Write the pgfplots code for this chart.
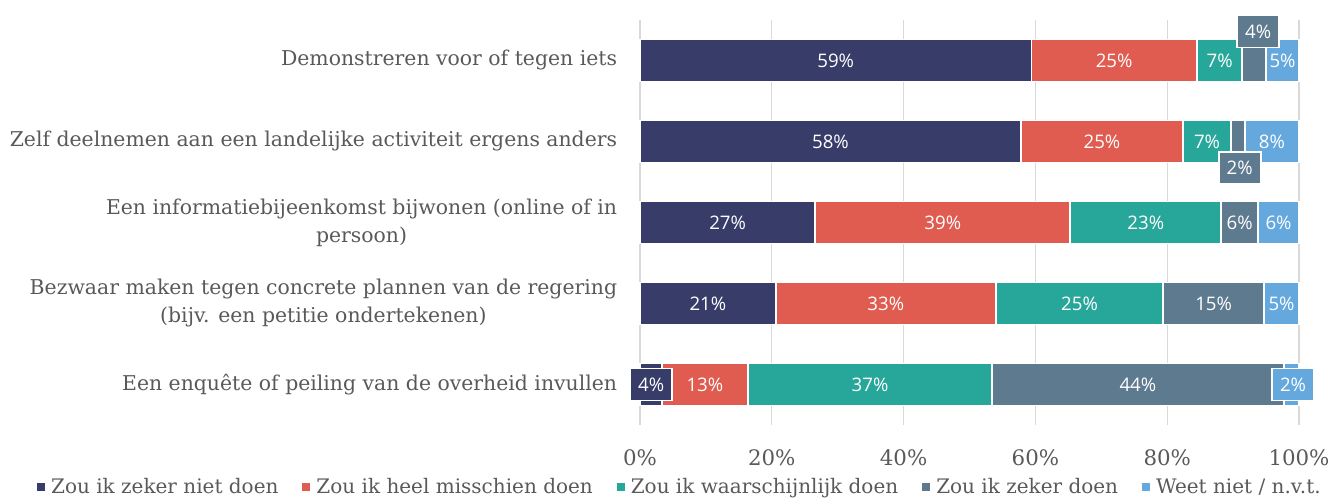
\documentclass[border=0pt]{standalone}
\usepackage{pgfplots}
\pgfplotsset{compat=1.18}
\usepackage{fontspec}
\setmainfont{DejaVu Serif}
\newfontfamily\lab{Open Sans}
\definecolor{cA}{HTML}{383C69}
\definecolor{cB}{HTML}{E05C50}
\definecolor{cC}{HTML}{27A69A}
\definecolor{cD}{HTML}{5E7A8F}
\definecolor{cE}{HTML}{64A8DE}
\definecolor{txt}{HTML}{595959}
\definecolor{grd}{HTML}{D9D9D9}
\begin{document}
\begin{tikzpicture}
\useasboundingbox (0,0) rectangle (1002.75pt,-373.5pt);
\pgfplotsset{
  base/.style={
    at={(480pt,-15pt)}, anchor=north west,
    scale only axis, width=494.25pt, height=303.75pt,
    xmin=0, xmax=100, ymin=-0.5, ymax=4.5, y dir=reverse,
    clip=false, /pgf/number format/assume math mode=true,
  },
  seg/.style={fill=#1, draw=white, line width=1.3pt},
  lbl/.style={draw=none, nodes near coords={\pgfmathprintnumber{\pgfplotspointmeta}\%}, point meta=explicit,
    every node near coord/.style={anchor=center, text=white, font=\lab\fontsize{14}{14}\selectfont}},
  boxlbl/.style={draw=none, nodes near coords={\pgfmathprintnumber{\pgfplotspointmeta}\%}, point meta=explicit,
    every node near coord/.style={anchor=center, text=white, font=\lab\fontsize{14}{14}\selectfont,
      fill=#1, draw=white, line width=1.2pt, minimum width=31.5pt, minimum height=24pt, inner sep=0pt}},
}
\begin{axis}[base,
  xbar stacked, bar width=31.5pt,
  axis line style={draw=none}, major tick length=0pt,
  xtick={0,20,...,100}, xticklabel={\pgfmathprintnumber{\tick}\%},
  xmajorgrids, major grid style={grd, line width=1pt},
  xticklabel style={inner sep=0pt, yshift=-18pt, text=txt, font=\fontsize{16}{16}\selectfont},
  ytick={0,...,4},
  yticklabels={Demonstreren voor of tegen iets,
    Zelf deelnemen aan een landelijke activiteit ergens anders,
    {Een informatiebijeenkomst bijwonen (online of in\\persoon)},
    {Bezwaar maken tegen concrete plannen van de regering\\(bijv. een petitie ondertekenen)},
    Een enquête of peiling van de overheid invullen},
  yticklabel style={align=center, inner sep=0pt, xshift=-17pt, text=txt, font=\fontsize{15.3}{21}\selectfont},
  legend columns=5,
  legend style={at={(0.061,-0.153)}, anchor=center, draw=none, fill=none,
    font=\fontsize{15}{15}\selectfont, text=txt,
    /tikz/every even column/.append style={column sep=16pt}},
  legend image code/.code={\fill[#1, draw=none] (0pt,-3pt) rectangle (6pt,3pt);},
]
\addplot[seg=cA] coordinates {(59.4,0) (57.8,1) (26.6,2) (20.6,3) (3.3,4)};
\addplot[seg=cB] coordinates {(25.1,0) (24.6,1) (38.7,2) (33.4,3) (13.1,4)};
\addplot[seg=cC] coordinates {(6.9,0) (7.3,1) (22.9,2) (25.4,3) (37.0,4)};
\addplot[seg=cD] coordinates {(3.6,0) (2.1,1) (5.6,2) (15.3,3) (44.3,4)};
\addplot[seg=cE] coordinates {(5.0,0) (8.2,1) (6.2,2) (5.3,3) (2.3,4)};
\legend{\,Zou ik zeker niet doen, \,Zou ik heel misschien doen, \,Zou ik waarschijnlijk doen, \,Zou ik zeker doen, \,Weet niet / n.v.t.}
\end{axis}
\begin{axis}[base, hide axis]
\addplot[lbl] table[meta=v] {
x y v
29.7 0 59
71.95 0 25
87.95 0 7
97.5 0 5
28.9 1 58
70.1 1 25
86.05 1 7
95.9 1 8
13.3 2 27
45.95 2 39
76.75 2 23
91.0 2 6
96.9 2 6
10.3 3 21
37.3 3 33
66.7 3 25
87.05 3 15
97.35 3 5
9.85 4 13
34.9 4 37
75.55 4 44
};
\addplot[boxlbl=cD] table[meta=v] {
x y v
93.8 -0.36 4
};
\addplot[boxlbl=cD] table[meta=v] {
x y v
91.0 1.33 2
};
\addplot[boxlbl=cA] table[meta=v] {
x y v
1.7 4 4
};
\addplot[boxlbl=cE] table[meta=v] {
x y v
99.1 4 2
};
\end{axis}
\end{tikzpicture}
\end{document}
